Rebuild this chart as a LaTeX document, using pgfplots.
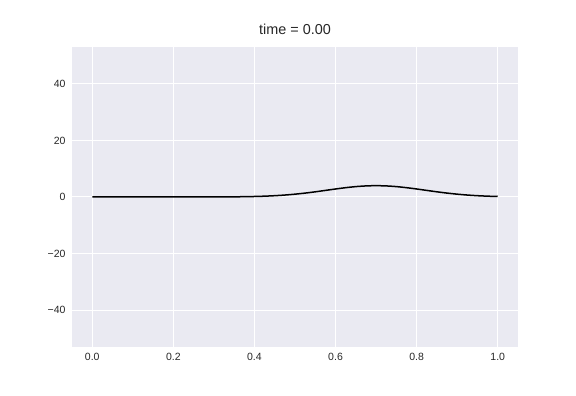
\documentclass[border=0pt]{standalone}
\usepackage{pgfplots}
\pgfplotsset{compat=1.18}
\usepackage{fontspec}
\setmainfont{Liberation Sans}
\definecolor{sbbg}{HTML}{EAEAF2}
\definecolor{sbtext}{HTML}{262626}
\begin{document}
\begin{tikzpicture}
\useasboundingbox (-72pt,-49pt) rectangle (504pt,347pt);
\begin{axis}[
  at={(0pt,0pt)}, anchor=south west,
  scale only axis,
  width=446pt, height=300pt,
  xmin=-0.05, xmax=1.05, ymin=-53, ymax=53,
  axis background/.style={fill=sbbg},
  axis line style={draw=none},
  major tick length=0pt,
  grid=major,
  grid style={white, line width=1pt},
  xtick={0,0.2,0.4,0.6,0.8,1.0},
  xticklabels={0.0,0.2,0.4,0.6,0.8,1.0},
  ytick={-40,-20,0,20,40},
  yticklabels={−40,−20,0,20,40},
  tick label style={font=\fontsize{10.5}{12}\selectfont, text=sbtext},
  xticklabel style={yshift=-3pt},
  yticklabel style={xshift=-3pt},
  title={time = 0.00},
  title style={font=\fontsize{14.4}{16}\selectfont, text=sbtext, yshift=3pt},
  clip=false,
]
\addplot[black, line width=1.5pt, smooth] coordinates {
(0.00,0) (0.10,0) (0.20,0) (0.30,0.015) (0.35,0.057) (0.40,0.18)
(0.425,0.29) (0.45,0.46) (0.475,0.69) (0.50,1.00) (0.525,1.38)
(0.55,1.83) (0.575,2.33) (0.60,2.83) (0.625,3.29) (0.65,3.67)
(0.675,3.91) (0.70,4.00) (0.725,3.91) (0.75,3.67) (0.775,3.29)
(0.80,2.83) (0.825,2.33) (0.85,1.83) (0.875,1.38) (0.90,1.00)
(0.925,0.69) (0.95,0.46) (0.975,0.29) (1.00,0.18)
};
\end{axis}
\end{tikzpicture}
\end{document}
